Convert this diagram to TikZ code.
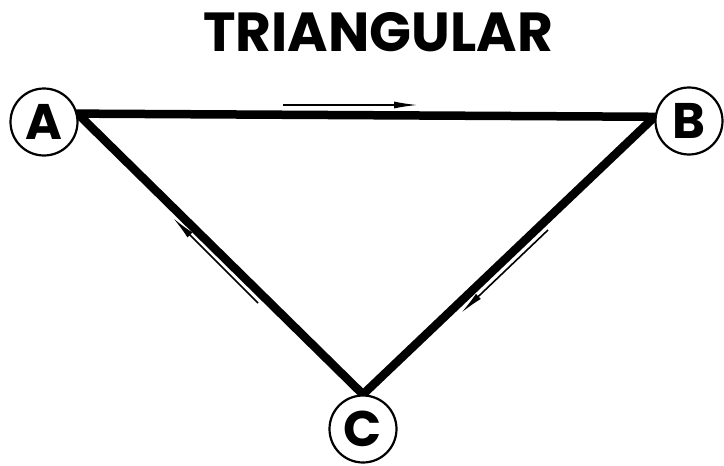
\documentclass[tikz,border=0pt]{standalone}
\usepackage{fontspec}
\setmainfont{Poppins}
\usetikzlibrary{arrows.meta,backgrounds}

\begin{document}
\begin{tikzpicture}[
  x=1pt, y=-1pt, >={Latex[length=24pt,width=7pt]},
  vtx/.style={circle, draw, fill=white, line width=2.2pt, minimum size=67pt, inner sep=0pt,
              font=\fontsize{50}{50}\selectfont\bfseries},
  leg/.style={line width=8.5pt, line join=miter},
  flow/.style={->, line width=1.6pt},
  title/.style={font=\fontsize{55}{55}\selectfont\bfseries}]
\useasboundingbox (0,0) rectangle (724,466);
% ---------------- nodes (pixel positions)
\node[title] (head) at (378,32) {TRIANGULAR};
\node[vtx] (A) at (44,122)  {A};
\node[vtx] (B) at (689,121) {B};
\node[vtx] (C) at (363,429) {C};
% ---------------- triangle
\begin{scope}[on background layer]
\draw[leg] (A.14) -- (B.173) -- (C.north) -- cycle;
\end{scope}
% ---------------- direction arrows
\coordinate (ab1) at (283,105);
\coordinate (ab2) at (418,105);
\coordinate (ca1) at (258,303);
\coordinate (ca2) at (173,218);
\coordinate (bc1) at (548,230);
\coordinate (bc2) at (461,313);
\draw[flow] (ab1) -- (ab2);
\draw[flow] (ca1) -- (ca2);
\draw[flow] (bc1) -- (bc2);
\end{tikzpicture}
\end{document}
